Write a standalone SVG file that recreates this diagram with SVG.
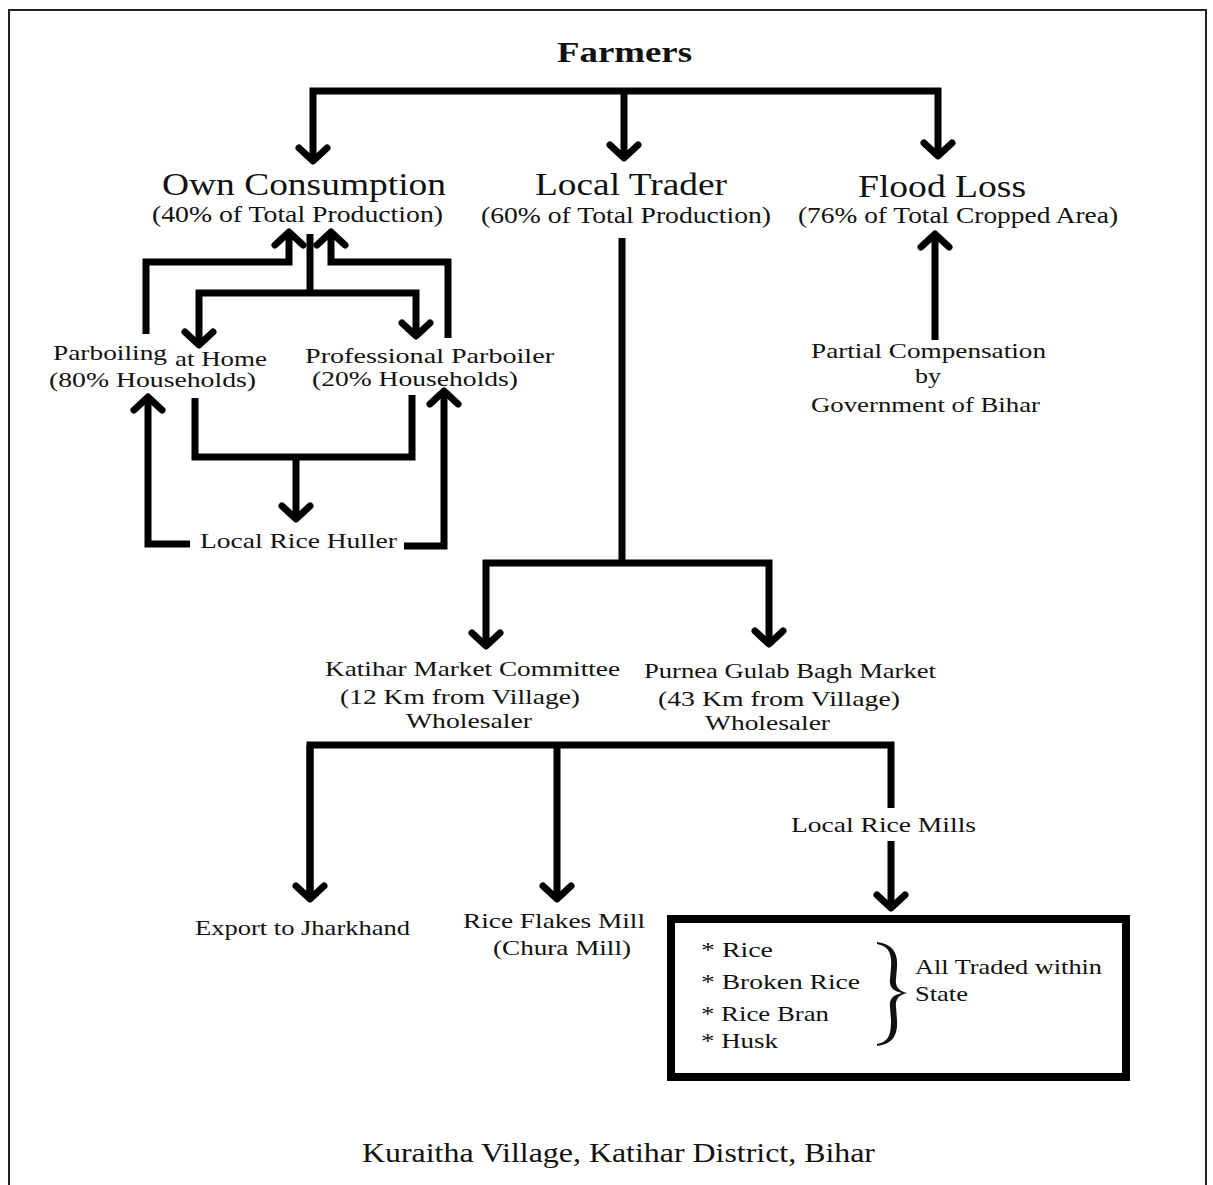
<svg xmlns="http://www.w3.org/2000/svg" width="1213" height="1185" viewBox="0 0 1213 1185">
  <style>
    .t { font-family: "Liberation Serif", "Times New Roman", serif; fill: #111; }
    .hd { font-size: 31px; }
    .sb { font-size: 23px; }
    .lb { font-size: 22px; }
    .ti { font-size: 30px; font-weight: bold; }
    .ft { font-size: 28px; }
    .c { fill: none; stroke: #000; stroke-width: 7; stroke-linejoin: miter; }
    .a { marker-end: url(#ah); }
    .aa { marker-start: url(#ah); marker-end: url(#ah); }
    .box { fill: none; stroke: #000; stroke-width: 8; }
  </style>
  <defs>
    <!-- open chevron arrowhead used by all connectors -->
    <marker id="ah" markerUnits="userSpaceOnUse" markerWidth="40" markerHeight="40" viewBox="-20 -20 40 40" refX="0" refY="0" orient="auto-start-reverse" overflow="visible">
      <path d="M-13,-14 L0,0 L-13,14" fill="none" stroke="#000" stroke-width="7" stroke-linecap="round" stroke-linejoin="round"/>
    </marker>
  </defs>

  <!-- page frame -->
  <rect x="0" y="0" width="1213" height="1185" fill="#fff"/>
  <rect x="9" y="10" width="1197" height="1190" fill="none" stroke="#222" stroke-width="2"/>

  <g id="connectors">
    <!-- Farmers to the three outlets -->
    <path class="c aa" d="M313,161 V91 H938 V156"/>
    <path class="c a" d="M624,91 V158"/>
    <!-- own consumption to parboiling -->
    <path class="c" d="M310,234 V293"/>
    <path class="c aa" d="M199,345 V293 H416 V336"/>
    <!-- parboiled rice back to own consumption -->
    <path class="c a" d="M146,334 V262 H289 V232"/>
    <path class="c a" d="M448,338 V262 H331 V232"/>
    <!-- parboiling to huller -->
    <path class="c" d="M195,398 V457 H412 V395"/>
    <path class="c a" d="M296,457 V519"/>
    <!-- huller back to parboiling -->
    <path class="c a" d="M190,544 H148 V397"/>
    <path class="c a" d="M404,546 H444 V391"/>
    <!-- compensation to flood loss -->
    <path class="c a" d="M935,340 V234"/>
    <!-- local trader to markets -->
    <path class="c" d="M622,238 V563"/>
    <path class="c aa" d="M486,646 V563 H769 V644"/>
    <!-- markets to buyers -->
    <path class="c" d="M310,899 V745 H891 V808"/>
    <path class="c a" d="M310,745 V899"/>
    <path class="c a" d="M557,745 V899"/>
    <path class="c a" d="M891,841 V908"/>
  </g>

  <g id="farmers">
    <text class="t ti" x="557" y="62" textLength="135" lengthAdjust="spacingAndGlyphs">Farmers</text>
  </g>

  <g id="own-consumption">
    <text class="t hd" x="162" y="195" textLength="284" lengthAdjust="spacingAndGlyphs">Own Consumption</text>
    <text class="t sb" x="152" y="222" textLength="291" lengthAdjust="spacingAndGlyphs">(40% of Total Production)</text>
  </g>

  <g id="local-trader">
    <text class="t hd" x="535" y="195" textLength="192" lengthAdjust="spacingAndGlyphs">Local Trader</text>
    <text class="t sb" x="481" y="223" textLength="290" lengthAdjust="spacingAndGlyphs">(60% of Total Production)</text>
  </g>

  <g id="flood-loss">
    <text class="t hd" x="858" y="197" textLength="168" lengthAdjust="spacingAndGlyphs">Flood Loss</text>
    <text class="t sb" x="798" y="223" textLength="320" lengthAdjust="spacingAndGlyphs">(76% of Total Cropped Area)</text>
  </g>

  <g id="parboiling-home">
    <text class="t lb" x="53" y="360" textLength="114" lengthAdjust="spacingAndGlyphs">Parboiling</text>
    <text class="t lb" x="175" y="366" textLength="92" lengthAdjust="spacingAndGlyphs">at Home</text>
    <text class="t lb" x="49" y="387" textLength="207" lengthAdjust="spacingAndGlyphs">(80% Households)</text>
  </g>

  <g id="professional-parboiler">
    <text class="t lb" x="305" y="363" textLength="249" lengthAdjust="spacingAndGlyphs">Professional Parboiler</text>
    <text class="t lb" x="312" y="386" textLength="206" lengthAdjust="spacingAndGlyphs">(20% Households)</text>
  </g>

  <g id="rice-huller">
    <text class="t lb" x="200" y="548" textLength="197" lengthAdjust="spacingAndGlyphs">Local Rice Huller</text>
  </g>

  <g id="compensation">
    <text class="t lb" x="811" y="358" textLength="235" lengthAdjust="spacingAndGlyphs">Partial Compensation</text>
    <text class="t lb" x="915" y="383" textLength="26" lengthAdjust="spacingAndGlyphs">by</text>
    <text class="t lb" x="811" y="412" textLength="229" lengthAdjust="spacingAndGlyphs">Government of Bihar</text>
  </g>

  <g id="katihar-market">
    <text class="t lb" x="325" y="676" textLength="295" lengthAdjust="spacingAndGlyphs">Katihar Market Committee</text>
    <text class="t lb" x="340" y="704" textLength="240" lengthAdjust="spacingAndGlyphs">(12 Km from Village)</text>
    <text class="t lb" x="406" y="728" textLength="126" lengthAdjust="spacingAndGlyphs">Wholesaler</text>
  </g>

  <g id="purnea-market">
    <text class="t lb" x="644" y="678" textLength="292" lengthAdjust="spacingAndGlyphs">Purnea Gulab Bagh Market</text>
    <text class="t lb" x="658" y="706" textLength="242" lengthAdjust="spacingAndGlyphs">(43 Km from Village)</text>
    <text class="t lb" x="705" y="730" textLength="125" lengthAdjust="spacingAndGlyphs">Wholesaler</text>
  </g>

  <g id="export">
    <text class="t lb" x="195" y="935" textLength="215" lengthAdjust="spacingAndGlyphs">Export to Jharkhand</text>
  </g>

  <g id="flakes-mill">
    <text class="t lb" x="463" y="928" textLength="182" lengthAdjust="spacingAndGlyphs">Rice Flakes Mill</text>
    <text class="t lb" x="493" y="955" textLength="138" lengthAdjust="spacingAndGlyphs">(Chura Mill)</text>
  </g>

  <g id="rice-mills">
    <text class="t lb" x="791" y="832" textLength="185" lengthAdjust="spacingAndGlyphs">Local Rice Mills</text>
  </g>

  <g id="mill-products">
    <rect class="box" x="671" y="919" width="455" height="158"/>
    <text class="t lb" x="701" y="957" textLength="72" lengthAdjust="spacingAndGlyphs">* Rice</text>
    <text class="t lb" x="701" y="989" textLength="159" lengthAdjust="spacingAndGlyphs">* Broken Rice</text>
    <text class="t lb" x="701" y="1021" textLength="128" lengthAdjust="spacingAndGlyphs">* Rice Bran</text>
    <text class="t lb" x="701" y="1048" textLength="77" lengthAdjust="spacingAndGlyphs">* Husk</text>
    <!-- curly brace grouping the products, drawn as a tapered filled shape -->
    <path d="M877,942 C893,944 898,953 897,967 L896,979 C895,987 899,991 907,993 C899,995 895,999 896,1007 L897,1020 C898,1035 893,1044 877,1046 L877,1044 C889,1042 891,1034 891,1020 L890,1007 C889,998 894,995 902,993 C894,991 889,988 890,979 L891,967 C892,954 889,946 877,944 Z" fill="#111"/>
    <text class="t lb" x="915" y="974" textLength="187" lengthAdjust="spacingAndGlyphs">All Traded within</text>
    <text class="t lb" x="915" y="1001" textLength="53" lengthAdjust="spacingAndGlyphs">State</text>
  </g>

  <g id="location">
    <text class="t ft" x="362" y="1162" textLength="513" lengthAdjust="spacingAndGlyphs">Kuraitha Village, Katihar District, Bihar</text>
  </g>
</svg>
